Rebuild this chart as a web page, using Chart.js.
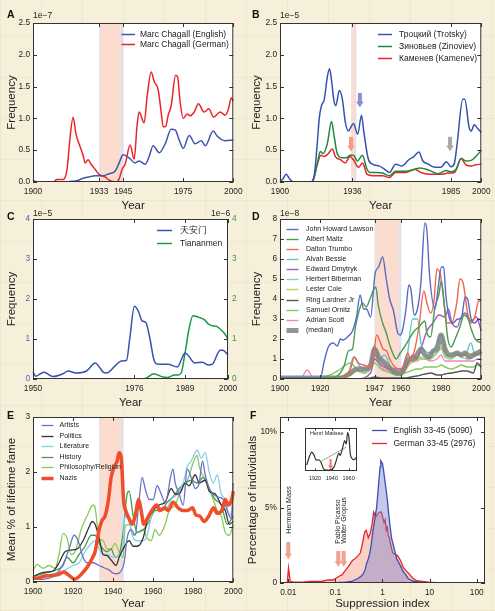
<!DOCTYPE html>
<html>
<head>
<meta charset="utf-8">
<script src="https://cdn.jsdelivr.net/npm/chart.js"></script>
<style>
  body { margin: 0; background: #f6efda; }
  #page {
    position: relative; width: 495px; height: 611px; overflow: hidden;
    background-color: #f6efda;
    background-image:
      repeating-linear-gradient(0deg, rgba(190,170,125,0.12) 0 1px, transparent 1px 41px),
      repeating-linear-gradient(90deg, rgba(190,170,125,0.12) 0 1px, transparent 1px 41px);
    font-family: "Liberation Sans", Arial, Helvetica, sans-serif;
  }
  .tag { position: absolute; font-size: 10.5px; line-height: 10.5px; font-weight: bold; color: #111; z-index: 5; }
  .exp { position: absolute; font-size: 8.5px; line-height: 8.5px; color: #222; z-index: 5; }
</style>
</head>
<body>
<div id="page">
  <div class="tag" style="left:7px;top:8.5px">A</div>
  <div class="tag" style="left:252px;top:8.5px">B</div>
  <div class="tag" style="left:7px;top:211px">C</div>
  <div class="tag" style="left:252px;top:211px">D</div>
  <div class="tag" style="left:7px;top:410px">E</div>
  <div class="tag" style="left:250px;top:410px">F</div>
  <div class="exp" style="left:33px;top:10.5px">1e−7</div>
  <div class="exp" style="left:280px;top:10.5px">1e−5</div>
  <div class="exp" style="left:33px;top:209px">1e−5</div>
  <div class="exp" style="left:211px;top:209px">1e−6</div>
  <div class="exp" style="left:280px;top:209px">1e−8</div>
</div>
<script>
// ---------- A: Marc Chagall (x1e-7) ----------
const chagallEnYears = [1900,1916,1919,1922,1925,1928,1931,1935,1938,1941,1943,1945,1948,1951,1953,1956,1958,1960,1963,1966,1969,1971,1973,1975,1978,1981,1984,1986,1990,1992,1996,2000];
const chagallEn = [0,0,0.01,0.02,0.06,0.08,0.1,0.1,0.13,0.17,0.3,0.43,0.38,0.3,0.33,0.28,0.4,0.57,0.46,0.6,0.83,0.82,0.66,0.53,0.73,0.6,0.65,0.57,0.8,0.72,0.65,0.66];
const chagallDeYears = [1900,1902,1910,1912,1915,1917,1918.5,1920,1921.5,1923,1925,1926,1927.5,1929,1931,1933,1936,1938,1941.5,1943,1944.5,1946,1948.5,1950.5,1952,1953,1955.5,1957,1959,1960.5,1962.5,1964,1965,1966.2,1967.5,1969,1971.2,1972.2,1973.5,1975,1977,1978.5,1980.5,1982.6,1985.4,1987.8,1990.2,1993.5,1996,1997.6,1999,2000];
const chagallDe = [0.03,0,0,0.04,0.04,0.2,0.7,1.02,0.75,0.6,0.42,0.3,0.35,0.28,0.2,0.12,0.08,0.03,0,0.05,0.2,0.28,0.58,0.36,0.9,1.1,0.93,1.35,1.73,1.58,1.45,1.1,0.87,0.87,1.05,1.2,1.68,1.65,1.25,1.0,1.07,1.04,1.1,1.23,1.1,1.15,1.02,1.1,1.05,1.15,1.32,1.27];
const aTicks = [1900,1933,1945,1975,2000];

// ---------- B: Trotsky / Zinoviev / Kamenev (x1e-5) ----------
const trotskyYears = [1900,1901.5,1903,1905,1907,1915,1917,1918.5,1919.5,1920.6,1922,1923.5,1924.6,1925.6,1926.7,1927.7,1929.5,1931,1932.4,1934,1935,1936.5,1938.6,1940.5,1941.6,1943.8,1946,1949.4,1952,1954.3,1957.5,1960.5,1964,1966.5,1969,1971,1973.7,1977,1980,1982.6,1985,1986.7,1988,1990.8,1991.8,1994,1995,1996.5,1998,2000];
const trotsky = [0,0.05,0.12,0.04,0,0,0.1,0.6,1.0,1.2,1.3,1.65,1.78,1.6,1.3,1.2,1.44,1.3,0.95,0.8,0.85,0.92,0.75,1.05,0.8,0.37,0.28,0.25,0.2,0.15,0.28,0.25,0.35,0.4,0.47,0.33,0.28,0.23,0.23,0.32,0.24,0.3,0.6,1.3,1.3,0.85,0.8,0.9,0.85,0.78];
const zinovievYears = [1900,1916,1918.6,1920,1921.4,1923.5,1925.6,1927,1928.4,1931,1933,1934.8,1936.5,1938.4,1941,1943,1944.6,1948,1951,1954.3,1957.5,1962.4,1967,1969.5,1973.7,1978.6,1982.6,1985,1987.5,1990,1992.4,1995,1997.3,2000];
const zinoviev = [0,0,0.3,0.48,0.45,0.6,0.95,0.7,0.45,0.38,0.38,0.42,0.42,0.33,0.42,0.22,0.15,0.15,0.14,0.1,0.17,0.17,0.2,0.22,0.19,0.13,0.18,0.16,0.2,0.37,0.33,0.34,0.4,0.5];
const kamenevYears = [1900,1916,1918.3,1920.3,1922,1923.8,1926,1927.5,1930,1932.4,1934.8,1936.5,1939,1941,1943.3,1946,1951,1954.3,1957.5,1962.4,1967,1970,1975,1980,1983.5,1986.7,1990,1992.4,1995,1997.3,2000];
const kamenev = [0,0,0.25,0.42,0.4,0.44,0.52,0.4,0.35,0.3,0.4,0.35,0.23,0.3,0.12,0.1,0.1,0.07,0.15,0.15,0.2,0.15,0.12,0.12,0.14,0.15,0.37,0.27,0.25,0.27,0.28];
const bTicks = [1900,1936,1985,2000];
const bArrowYears = [1939.7,1935.3,1984.5];
const bArrowTops = [1.40,0.71,0.71];
const bArrowTips = [1.17,0.48,0.48];

// ---------- C: Tiananmen ----------
const tamYears = [1950,1950.7,1952.8,1955.1,1957.7,1959,1961,1963.7,1966,1967,1968,1968.8,1971,1972.6,1974,1974.8,1976,1977,1978,1978.9,1980,1981,1982,1984.6,1987,1989,1989.7,1991.5,1993.4,1995,1996,1998,1998.7,2000];
const tamChinese = [0.18,0.07,0.17,0.06,0.13,0.2,0.15,0.2,0.4,0.3,0.17,0.15,0.32,0.45,0.47,1.0,1.82,1.7,1.45,1.42,1.0,0.48,0.37,0.37,0.3,0.65,0.6,0.4,0.42,0.35,0.37,0.72,0.72,0.6];
const tamEnYears = [1950,1978,1979,1981,1982,1983.3,1984.6,1986.3,1987.2,1988,1988.9,1990,1991,1992.3,1994,1995,1996,1997,1998.3,1999,2000];
const tamEnglish = [0,0,0.02,0.13,0.1,0.05,0.04,0.1,0.1,0.15,0.6,1.25,1.58,1.55,1.48,1.37,1.33,1.32,1.22,1.15,1.0];
const cTicks = [1950,1976,1989,2000];

// ---------- D: Hollywood Ten (x1e-8) ----------
const lawsonYears = [1900,1920,1922,1924,1926.5,1928.5,1930,1931.5,1933.5,1936,1938,1939.8,1941.5,1943,1945,1947.3,1949,1951,1952.8,1954.5,1956.4,1958.5,1959.8,1961,1962.6,1964,1965,1966.7,1968.3,1970,1972,1973,1974.3,1977,1978.5,1980.2,1981.3,1982.4,1984,1986,1988.3,1990,1992,1993.2,1995,1996.7,1998.7,2000];
const lawson = [0.05,0.05,0.9,1.6,1.8,1.65,2.0,1.95,2.1,2.4,3.1,4.2,3.5,3.5,3.1,5.3,5.6,6.1,5.0,4.0,3.4,2.3,2.2,2.5,3.5,4.7,4.5,3.2,3.5,4.8,7.8,7.4,5.2,3.5,4.5,5.6,5.6,4.2,3.1,2.8,3.0,3.0,4.1,4.0,3.0,2.8,3.0,2.9];
const maltzYears = [1900,1925,1930,1932,1934,1936,1937.5,1939,1941,1942.8,1944.7,1946.7,1947.6,1948.8,1951,1952.8,1954.5,1956.4,1957.7,1959.7,1961.8,1964.2,1966.7,1969,1972,1973,1974.8,1977,1978.9,1980.2,1981.8,1983.4,1985,1987,1989.4,1991.5,1993.5,1995,1997,2000];
const maltz = [0.05,0.05,0.3,0.7,1.4,1.5,2.6,3.3,3.8,3.6,4.0,4.5,4.6,3.7,2.8,2.3,1.7,1.2,1.0,1.3,1.6,2.0,2.4,2.6,2.9,2.3,2.1,3.6,4.2,4.9,3.5,2.0,1.6,2.0,2.6,3.2,3.0,2.5,2.0,1.8];
const trumboYears = [1900,1930,1933,1935,1937,1939,1941.5,1944.4,1946.3,1948,1949.6,1951.2,1953,1954.5,1957,1959.3,1961,1963.4,1965,1967,1969,1971.5,1973,1974.8,1976.4,1978,1979.7,1981.3,1983,1985.4,1987.8,1989.4,1991,1993.2,1995,1997,1998.7,2000];
const trumbo = [0,0,0.2,0.5,1.1,0.8,0.7,0.6,1.0,2.2,1.9,1.5,1.4,1.0,0.6,0.5,0.6,1.3,1.0,1.5,2.6,4.4,3.8,3.3,3.8,5.5,5.2,4.0,2.8,2.8,3.8,5.0,4.8,3.3,2.8,3.2,3.9,3.9];
const bessieYears = [1900,1930,1934,1936.6,1940,1944,1947,1949,1952,1955,1958,1960,1963,1965.9,1968.3,1970,1972,1975,1978,1980,1983,1986,1990,1992,1994.8,1997,2000];
const bessie = [0,0,0.3,1.1,0.6,0.5,1.7,1.0,1.2,0.6,0.4,0.4,1.0,3.0,3.0,1.8,1.4,1.3,1.8,2.2,1.2,1.3,1.2,1.2,1.8,1.2,1.3];
const dmytrykYears = [1900,1938,1945,1947,1950,1955,1960,1963,1966,1968,1970,1973,1976,1979,1982,1983.7,1985.4,1988,1990,1992,1995,1997.5,2000];
const dmytryk = [0,0,0.3,1.0,0.7,0.5,0.5,0.7,1.2,1.0,1.5,2.4,2.8,3.2,3.1,3.5,2.8,2.6,3.1,3.3,2.9,3.1,2.4];
const minorYears = [1900,1910,1913.5,1917,1925,1930,1935,1938,1942,1945,1947,1950,1955,1958,1960,1962,1965,1968,1970,1972,1975,1978,1980,1982,1985,1988,1990,1993,1996,1998,2000];
const biberman = [0,0,0,0,0,0.1,0.3,0.4,0.3,0.6,1.2,0.8,0.5,0.3,0.3,0.5,0.9,1.0,1.1,1.0,1.0,1.3,1.5,1.1,1.0,1.2,1.1,1.0,1.1,1.2,1.2];
const cole = [0,0,0,0,0,0.1,0.2,0.4,0.3,0.5,1.0,0.7,0.5,0.3,0.3,0.5,0.8,0.9,1.0,1.0,1.1,1.3,1.6,1.2,1.1,1.3,1.2,1.3,1.2,1.3,1.3];
const lardner = [0,0,0,0,0,0,0,0,0.02,0.05,0.1,0.05,0.05,0.05,0.05,0.05,0.1,0.15,0.2,0.25,0.3,0.2,0.2,0.25,0.3,0.35,0.4,0.4,0.3,0.8,0.6];
const ornitz = [0,0,0,0.05,0.2,0.5,0.8,0.5,0.4,0.5,0.8,0.5,0.3,0.2,0.2,0.3,0.4,0.5,0.5,0.6,0.6,0.6,0.7,0.6,0.5,0.6,0.7,0.6,0.6,0.7,0.6];
const scott = [0,0,0.45,0,0,0.05,0.2,0.4,0.3,0.6,1.2,0.6,0.4,0.2,0.2,0.4,0.8,0.9,1.0,1.0,0.9,1.0,1.2,0.9,0.9,0.9,0.9,0.9,0.9,1.0,1.0];
const medianYears = [1900,1930,1935,1938,1942,1945,1947,1949,1952,1955,1958,1960,1962,1964,1966,1968,1970,1972,1974,1976,1978,1980,1982,1984,1986,1988,1990,1992,1994,1996,1998,2000];
const median = [0.05,0.05,0.3,0.5,0.5,0.7,1.5,1.1,0.8,0.5,0.3,0.3,0.6,1.0,1.0,1.2,1.5,1.2,1.1,1.4,1.5,2.2,1.5,1.2,1.2,1.3,1.2,1.3,1.1,1.2,1.3,1.4];
const dTicks = [1900,1920,1947,1960,1980,2000];

// ---------- E: mean % of lifetime fame ----------
const artistsYears = [1900,1905,1910,1913,1916,1918,1920.5,1922.5,1925,1927,1930,1933,1936,1938,1940,1942,1944,1945.5,1947,1949,1951,1953,1954.5,1956,1958,1960,1962,1964,1966,1969.9,1971,1973,1975,1977,1979,1981,1983,1984.6,1986,1988,1990,1992,1995,1997,1999,2000];
const artists = [0.05,0.05,0.1,0.2,0.4,0.6,0.85,0.75,0.45,0.35,0.35,0.3,0.25,0.22,0.16,0.15,0.2,0.35,0.8,0.95,0.85,1.5,1.9,1.7,1.5,1.5,1.75,1.6,1.45,2.05,1.8,1.6,1.4,2.05,1.9,1.7,1.8,2.2,1.95,1.7,1.6,1.55,1.5,1.3,1.15,1.8];
const politicsYears = [1900,1903,1906,1910,1913,1916,1919,1922,1925,1928,1929.5,1931,1933,1935,1937,1939,1941.5,1943,1945,1948,1950,1952,1955,1957,1960,1963,1966,1969,1971,1973,1976,1978,1981,1983,1986,1988,1991,1994,1996,1998,2000];
const politics = [0.1,0.15,0.18,0.2,0.35,0.55,0.58,0.6,0.75,1.0,1.1,1.05,0.8,0.5,0.48,0.4,0.3,0.45,0.6,0.75,0.65,0.65,0.8,1.1,1.3,1.4,1.45,1.7,1.6,1.6,1.8,1.75,1.95,1.8,1.85,1.65,1.6,1.4,1.3,1.05,1.1];
const literatureYears = [1900,1905,1910,1915,1920,1923,1926,1929,1931,1933,1935,1937,1940,1943,1945,1946,1948,1950,1952,1955,1957,1960,1963,1966,1969,1972,1975,1977,1979,1982,1984,1986,1988,1990,1992,1994,1996,1998,2000];
const literature = [0.05,0.1,0.15,0.2,0.3,0.35,0.55,0.7,0.75,0.6,0.5,0.5,0.45,0.5,0.7,1.2,1.1,0.8,0.75,0.75,0.85,1.3,1.35,1.3,1.5,1.6,1.8,2.1,2.2,2.4,2.25,2.35,2.0,1.8,1.95,1.6,1.5,1.2,1.35];
const historyYears = [1900,1905,1910,1915,1917,1920,1923,1926,1929,1931,1933,1935,1937,1939,1941,1943,1945,1947,1948,1950,1952,1955,1958,1961,1964,1967,1970,1973,1976,1979,1982,1985,1988,1991,1994,1997,2000];
const history = [0.1,0.15,0.2,0.3,0.45,0.35,0.5,0.65,0.85,0.85,0.7,0.6,0.55,0.6,0.45,0.5,0.9,1.6,1.65,1.2,0.9,0.95,1.1,1.3,1.3,1.45,1.55,1.7,1.8,1.85,1.8,1.9,1.7,1.5,1.4,1.05,1.2];
const philosophyYears = [1900,1902,1905,1908,1911,1913,1915,1917,1919,1921,1924,1927,1930,1931,1933,1935,1937,1939,1941,1943,1945,1946,1948,1950,1952,1955,1957,1959,1961,1963,1966,1968,1971,1974,1977,1982,1983,1986,1988,1990,1992,1994,1996,1998,2000];
const philosophy = [0.2,0.32,0.25,0.3,0.25,0.5,0.88,0.8,0.5,0.55,0.95,1.2,1.4,1.35,0.8,0.75,0.6,0.6,0.7,0.55,0.45,1.0,1.05,0.85,0.9,0.95,0.8,0.75,0.95,0.85,1.05,1.3,1.4,1.7,1.85,2.3,2.1,1.85,1.7,1.5,1.3,1.2,0.9,0.85,1.05];
const nazisYears = [1900,1902,1905,1910,1913,1915.4,1918,1920.8,1923,1926,1927.6,1929.4,1931,1933,1934.5,1936,1937.7,1939,1940.7,1942,1943,1944.2,1945.2,1946.3,1948,1949.6,1951,1952.8,1954,1955.3,1957,1959.3,1961.8,1963.4,1965.9,1967.5,1970,1972.4,1974.8,1977.2,1979.7,1981.3,1983.3,1985.4,1987.8,1990.2,1991.9,1994.3,1996,1997.6,1999.2,2000];
const nazis = [0.1,0.07,0.1,0.12,0.14,0.18,0.12,0.05,0.1,0.22,0.3,0.42,0.55,0.95,1.12,1.2,1.5,1.9,2.1,2.2,2.35,2.2,1.5,1.3,1.15,1.05,1.2,1.5,1.3,1.05,1.15,1.3,1.4,1.3,1.35,1.3,1.45,1.35,1.3,1.3,1.35,1.22,1.2,1.1,1.2,1.35,1.25,1.3,1.5,1.4,1.5,1.65];
const eTicks = [1900,1920,1940,1960,1980,2000];

// ---------- F: suppression index (% of individuals) ----------
const supEnX = [0.0067,0.1,0.16,0.22,0.3,0.35,0.39,0.43,0.46,0.5,0.54,0.58,0.63,0.69,0.75,0.8,0.85,0.89,0.92,0.96,1.0,1.06,1.12,1.2,1.27,1.35,1.42,1.55,1.74,2.0,2.35,2.7,3.1,3.5,4.2,4.9,6,7.9,10,150];
const supEn = [0,0.02,0.05,0.1,0.3,0.45,0.6,0.9,1.3,1.6,2.0,2.6,3.5,4.3,5.0,6.0,7.0,7.7,8.1,8.0,7.9,7.4,6.8,6.1,5.5,4.6,4.0,3.0,2.4,1.6,1.2,0.8,0.55,0.3,0.15,0.1,0.05,0.02,0,0];
const supDeX = [0.0067,0.0095,0.0101,0.011,0.013,0.02,0.03,0.05,0.07,0.09,0.1,0.12,0.14,0.16,0.18,0.2,0.23,0.26,0.3,0.34,0.38,0.42,0.45,0.5,0.55,0.6,0.65,0.72,0.8,0.87,0.95,1.02,1.08,1.14,1.2,1.27,1.33,1.4,1.5,1.65,1.85,2.1,2.4,2.8,3.2,3.7,4.3,5.3,7,9.5,15,40,150];
const supDe = [0,0,1.0,0.1,0.05,0.05,0.1,0.1,0.2,0.2,0.3,0.45,0.55,0.8,1.0,1.2,1.5,1.6,1.8,2.0,2.7,3.4,3.5,3.0,3.3,3.9,4.7,4.4,4.6,4.7,4.7,4.3,4.0,4.2,3.5,3.7,3.1,3.0,2.5,2.0,1.9,1.8,1.5,1.0,0.8,0.6,0.35,0.15,0.1,0.05,0.03,0.02,0];
const fTicks = [0.01,0.1,1,10,100];
const fArrowX = [0.01,0.115,0.15];
const fArrowTops = [2.72,2.12,2.12];
const fArrowTips = [1.55,1.06,1.06];
const fNames = ['Hermann Mass','Pablo Picasso','Walter Gropius'];
const fNameX = [0.01035,0.112,0.152];
const fNameY = [3.27,2.6,2.6];

// inset: Henri Matisse
const matisseYears = [1910,1913.2,1916,1918.8,1921.2,1924,1926.8,1930,1933.2,1937.2,1940,1942.8,1946,1948.4,1950,1952,1954,1955.2,1957.2,1958.8,1960.4,1962,1964,1966,1969.2];
const matisse = [1.4,3.4,4.5,3.8,2.6,2.7,2.2,0.6,0.2,0.2,0.4,1.0,3.0,4.3,3.75,4.9,6.5,7.3,6.5,9.2,8.0,4.1,3.0,2.7,3.2];
const matisseTrendYears = [1928,1957];
const matisseTrend = [2.4,5.7];
const insetTicks = [1920,1940,1960];

// ---------- helpers ----------
const FONT = '"Liberation Sans", Arial, Helvetica, sans-serif';
const INK = '#222';
Chart.defaults.font.family = FONT;
Chart.defaults.color = INK;

const page = document.getElementById('page');

function xy(xs, ys) {
  return xs.map((x, i) => ({ x: x, y: ys[i] }));
}

function series(label, xs, ys, color, width, extra) {
  return Object.assign({
    label: label,
    data: xy(xs, ys),
    borderColor: color,
    backgroundColor: color,
    borderWidth: width,
    pointRadius: 0,
    cubicInterpolationMode: 'monotone',
    fill: false,
    order: 0
  }, extra || {});
}

function steps(min, max, step) {
  const out = [];
  for (let v = min; v <= max + 1e-9; v += step) out.push(+v.toFixed(6));
  return out;
}

// year axes take their range from the data (every series spans the full period)
function xAxis(type, min, max, ticks, title, pb, size) {
  const axis = {
    type: type,
    grid: { display: false, drawTicks: false },
    border: { display: false },
    afterBuildTicks: s => { s.ticks = ticks.map(v => ({ value: v })); },
    ticks: { padding: 4.5, autoSkip: false, maxRotation: 0, font: { size: size || 8.3 }, color: INK, callback: v => String(v) },
    title: { display: !!title, text: title, font: { size: 11.5 }, color: INK, padding: { top: 0, bottom: pb } }
  };
  if (min === null) {
    axis.bounds = 'data';
    axis.grace = 0;
  } else {
    axis.min = min;
    axis.max = max;
  }
  return axis;
}

function yAxis(min, max, ticks, fmt, title, pt, color, position) {
  return {
    type: 'linear', min: min, max: max, position: position || 'left',
    grid: { display: false, drawTicks: false },
    border: { display: false },
    afterBuildTicks: s => { s.ticks = ticks.map(v => ({ value: v })); },
    ticks: { padding: position === 'right' ? 4 : 3, font: { size: 8.3 }, color: color || INK, callback: fmt },
    title: { display: !!title, text: title, font: { size: 11.5 }, color: INK, padding: { top: pt, bottom: 0 } }
  };
}

// white plot area, dark frame and short inward ticks on every side
function framePlugin(len) {
  return {
    id: 'frame',
    beforeDraw(chart) {
      const { ctx, chartArea: a } = chart;
      ctx.save();
      ctx.fillStyle = '#fff';
      ctx.fillRect(a.left, a.top, a.right - a.left, a.bottom - a.top);
      ctx.restore();
    },
    afterDraw(chart) {
      const { ctx, chartArea: a } = chart;
      ctx.save();
      ctx.strokeStyle = '#333';
      ctx.lineWidth = 1;
      ctx.strokeRect(a.left + 0.5, a.top + 0.5, a.right - a.left - 1, a.bottom - a.top - 1);
      const hasRight = !!chart.scales.y2;
      Object.values(chart.scales).forEach(s => {
        if (s.options.display === false) return;
        s.ticks.forEach(t => {
          const p = Math.round(s.getPixelForValue(t.value)) + 0.5;
          ctx.beginPath();
          if (s.isHorizontal()) {
            ctx.moveTo(p, a.bottom); ctx.lineTo(p, a.bottom - len);
            ctx.moveTo(p, a.top); ctx.lineTo(p, a.top + len);
          } else if (s.position === 'left') {
            ctx.moveTo(a.left, p); ctx.lineTo(a.left + len, p);
            if (!hasRight) { ctx.moveTo(a.right, p); ctx.lineTo(a.right - len, p); }
          } else {
            ctx.moveTo(a.right, p); ctx.lineTo(a.right - len, p);
          }
          ctx.stroke();
        });
      });
      ctx.restore();
    }
  };
}

// pink period band behind the lines, with pale edges
function shadePlugin(from, to, leftEdge, rightEdge) {
  return {
    id: 'shade',
    beforeDatasetsDraw(chart) {
      const { ctx, chartArea: a, scales: { x } } = chart;
      const x1 = x.getPixelForValue(from), x2 = x.getPixelForValue(to);
      ctx.save();
      ctx.fillStyle = '#fbdccf';
      ctx.fillRect(x1, a.top, x2 - x1, a.bottom - a.top);
      if (leftEdge) {
        ctx.fillStyle = '#e3e5ec';
        ctx.fillRect(x1, a.top, leftEdge, a.bottom - a.top);
      }
      if (rightEdge) {
        ctx.fillStyle = '#d9e2ee';
        ctx.fillRect(x2 - rightEdge + 0.5, a.top, rightEdge, a.bottom - a.top);
      }
      ctx.restore();
    }
  };
}

function arrowPlugin(xs, tops, tips, colors, size, yId) {
  return {
    id: 'arrows',
    afterDatasetsDraw(chart) {
      const { ctx } = chart;
      const sx = chart.scales.x, sy = chart.scales[yId || 'y'];
      ctx.save();
      xs.forEach((v, i) => {
        const x = sx.getPixelForValue(v);
        const y1 = sy.getPixelForValue(tops[i]), y2 = sy.getPixelForValue(tips[i]);
        ctx.fillStyle = colors[i];
        ctx.fillRect(x - size.sw / 2, y1, size.sw, y2 - y1 - size.hh + 0.5);
        ctx.beginPath();
        ctx.moveTo(x - size.hw / 2, y2 - size.hh);
        ctx.lineTo(x + size.hw / 2, y2 - size.hh);
        ctx.lineTo(x, y2);
        ctx.closePath();
        ctx.fill();
      });
      ctx.restore();
    }
  };
}

function textPlugin(texts, xs, ys, font, rot) {
  return {
    id: 'texts',
    afterDatasetsDraw(chart) {
      const { ctx } = chart;
      ctx.save();
      ctx.font = font;
      ctx.fillStyle = INK;
      ctx.textBaseline = 'middle';
      ctx.textAlign = 'left';
      texts.forEach((t, i) => {
        const x = chart.scales.x.getPixelForValue(xs[i]);
        const y = chart.scales.y.getPixelForValue(ys[i]);
        ctx.save();
        ctx.translate(x, y);
        ctx.rotate(rot);
        ctx.fillText(t, 0, 0);
        ctx.restore();
      });
      ctx.restore();
    }
  };
}

// legend drawn inside the plot area, offsets relative to chartArea
function legendPlugin(o) {
  return {
    id: 'boxLegend',
    afterDraw(chart) {
      const { ctx, chartArea: a } = chart;
      ctx.save();
      ctx.font = o.size + 'px ' + FONT;
      ctx.textBaseline = 'middle';
      let i = 0;
      chart.data.datasets.forEach(ds => {
        if (ds.noLegend) return;
        const y = Math.round(a.top + o.dy + i * o.row) + 0.5;
        ctx.strokeStyle = ds.borderColor;
        ctx.lineWidth = ds.borderWidth;
        ctx.beginPath();
        ctx.moveTo(a.left + o.x1, y);
        ctx.lineTo(a.left + o.x2, y);
        ctx.stroke();
        ctx.fillStyle = INK;
        ctx.fillText(ds.label, a.left + o.tx, y);
        i++;
      });
      ctx.restore();
    }
  };
}

function panel(box, area, scales, datasets, plugins) {
  const c = document.createElement('canvas');
  c.width = box.w; c.height = box.h;
  c.style.cssText = 'position:absolute;left:' + box.left + 'px;top:' + box.top + 'px;width:' + box.w + 'px;height:' + box.h + 'px';
  page.appendChild(c);
  scales.x.afterFit = s => { s.height = box.h - area.b; };
  if (scales.y.display !== false) scales.y.afterFit = s => { s.width = area.l; };
  if (scales.y2) scales.y2.afterFit = s => { s.width = box.w - area.r; };
  return new Chart(c, {
    type: 'line',
    data: { datasets: datasets },
    options: {
      responsive: false,
      animation: false,
      devicePixelRatio: 1,
      layout: { padding: {
        left: scales.y.display === false ? area.l : 0,
        top: area.t,
        right: scales.y2 ? 0 : box.w - area.r,
        bottom: 0
      } },
      plugins: { legend: { display: false }, tooltip: { enabled: false } },
      scales: scales
    },
    plugins: [framePlugin(box.tick || 4)].concat(plugins || [])
  });
}

const fmt1 = v => v.toFixed(1);
const fmt0 = v => String(v);

// ---------- A ----------
panel({ left: 0, top: 0, w: 247, h: 215 }, { l: 33, t: 23, r: 238, b: 182 },
  {
    x: xAxis('linear', null, null, aTicks, 'Year', 2.1),
    y: yAxis(0, 2.5, steps(0, 2.5, 0.5), fmt1, 'Frequency', 4.8)
  },
  [
    series('Marc Chagall (English)', chagallEnYears, chagallEn, '#3c55ad', 1.5),
    series('Marc Chagall (German)', chagallDeYears, chagallDe, '#ee2328', 1.5)
  ],
  [shadePlugin(1933, 1945, 1.5, 2.5), legendPlugin({ x1: 88.5, x2: 102, tx: 107, dy: 10.5, row: 10.8, size: 8.5 })]
);

// ---------- B ----------
panel({ left: 247, top: 0, w: 248, h: 215 }, { l: 33, t: 23, r: 239, b: 182 },
  {
    x: xAxis('linear', null, null, bTicks, 'Year', 2.4),
    y: yAxis(0, 2.5, steps(0, 2.5, 0.5), fmt1, 'Frequency', 2.8)
  },
  [
    series('Троцкий (Trotsky)', trotskyYears, trotsky, '#3652b0', 1.5),
    series('Зиновьев (Zinoviev)', zinovievYears, zinoviev, '#1d8a3b', 1.5),
    series('Каменев (Kamenev)', kamenevYears, kamenev, '#e8232a', 1.5)
  ],
  [
    shadePlugin(1935.3, 1937.7, 0, 1.5),
    arrowPlugin(bArrowYears, bArrowTops, bArrowTips, ['#8b8fd2', '#f59a83', '#a9a9a9'], { sw: 4, hw: 7.5, hh: 6 }),
    legendPlugin({ x1: 98, x2: 112, tx: 119, dy: 10.5, row: 12, size: 8.5 })
  ]
);

// ---------- C ----------
panel({ left: 0, top: 200, w: 247, h: 215 }, { l: 33, t: 19, r: 228, b: 179 },
  {
    x: xAxis('linear', null, null, cTicks, 'Year', 5.1),
    y: yAxis(0, 4, steps(0, 4, 1), fmt0, 'Frequency', 4.8, '#4a63c0'),
    y2: yAxis(0, 4, steps(0, 4, 1), fmt0, '', 0, '#2c9d4b', 'right')
  },
  [
    series('天安门', tamYears, tamChinese, '#3652b0', 1.5),
    series('Tiananmen', tamEnYears, tamEnglish, '#1d9a45', 1.5, { yAxisID: 'y2' })
  ],
  [legendPlugin({ x1: 124, x2: 139, tx: 147, dy: 11, row: 12.7, size: 8.5 })]
);

// ---------- D ----------
const minorOpts = { order: 2 };
panel({ left: 247, top: 200, w: 248, h: 215 }, { l: 33, t: 19, r: 238, b: 179 },
  {
    x: xAxis('linear', null, null, dTicks, 'Year', 5.1),
    y: yAxis(0, 8, steps(0, 8, 1), fmt0, 'Frequency', 2.8)
  },
  [
    series('John Howard Lawson', lawsonYears, lawson, '#5a6bc2', 1.4),
    series('Albert Maltz', maltzYears, maltz, '#4b9a52', 1.4),
    series('Dalton Trumbo', trumboYears, trumbo, '#f4664a', 1.4),
    series('Alvah Bessie', bessieYears, bessie, '#5ecaca', 1.4, minorOpts),
    series('Edward Dmytryk', dmytrykYears, dmytryk, '#a45cb6', 1.4, minorOpts),
    series('Herbert Biberman', minorYears, biberman, '#8fd39c', 1.4, minorOpts),
    series('Lester Cole', minorYears, cole, '#cbc857', 1.4, minorOpts),
    series('Ring Lardner Jr', minorYears, lardner, '#555555', 1.4, minorOpts),
    series('Samuel Ornitz', minorYears, ornitz, '#80c95a', 1.4, minorOpts),
    series('Adrian Scott', minorYears, scott, '#f28ab6', 1.4, minorOpts),
    series('(median)', medianYears, median, 'rgba(128,128,128,0.85)', 5, { order: 1 })
  ],
  [shadePlugin(1947, 1960, 1.5, 2.5), legendPlugin({ x1: 6.5, x2: 18.5, tx: 26, dy: 9.5, row: 10.15, size: 7 })]
);

// ---------- E ----------
const eOpts = { order: 1 };
panel({ left: 0, top: 400, w: 247, h: 211 }, { l: 33, t: 17, r: 238, b: 182 },
  {
    x: xAxis('linear', null, null, eTicks, 'Year', 0),
    y: yAxis(0, 3, steps(0, 3, 1), fmt0, 'Mean % of lifetime fame', 5.4)
  },
  [
    series('Artists', artistsYears, artists, '#6a72c6', 1.3, eOpts),
    series('Politics', politicsYears, politics, '#333333', 1.3, eOpts),
    series('Literature', literatureYears, literature, '#86d0ea', 1.3, eOpts),
    series('History', historyYears, history, '#4b9a52', 1.3, eOpts),
    series('Philosophy/Religion', philosophyYears, philosophy, '#8ccb5a', 1.3, eOpts),
    series('Nazis', nazisYears, nazis, '#f04e2b', 3.5, { order: 0 })
  ],
  [shadePlugin(1933, 1945, 1.5, 2.5), legendPlugin({ x1: 8.5, x2: 20.5, tx: 26.5, dy: 8, row: 10.5, size: 7 })]
);

// ---------- F ----------
const pct = v => (v === 0 ? '0' : v + '%');
const straight = { cubicInterpolationMode: 'default', tension: 0 };
panel({ left: 240, top: 400, w: 255, h: 211 }, { l: 40, t: 17, r: 245, b: 183 },
  {
    x: xAxis('logarithmic', 0.00667, 150, fTicks, 'Suppression index', 0),
    y: yAxis(0, 11, [0, 5, 10], pct, 'Percentage of individuals', 6)
  },
  [
    series('English 33-45 (5090)', supEnX, supEn, '#3a4fb0', 1.3,
      Object.assign({ fill: 'origin', backgroundColor: 'rgba(120,128,205,0.42)' }, straight)),
    series('German 33-45 (2976)', supDeX, supDe, '#e8232a', 1.3,
      Object.assign({ fill: 'origin', backgroundColor: 'rgba(242,140,118,0.42)' }, straight))
  ],
  [
    arrowPlugin(fArrowX, fArrowTops, fArrowTips, ['#f4a18b', '#f4a18b', '#f4a18b'], { sw: 4, hw: 7, hh: 6 }),
    textPlugin(fNames, fNameX, fNameY, '7px ' + FONT, -Math.PI / 2),
    legendPlugin({ x1: 92, x2: 107, tx: 113.5, dy: 13, row: 12.5, size: 8.5 })
  ]
);

// ---------- F inset: Henri Matisse ----------
panel({ left: 300, top: 425, w: 62, h: 62, tick: 2.5 }, { l: 5, t: 3, r: 57, b: 46 },
  {
    x: xAxis('linear', 1908, 1970, insetTicks, '', 0, 5.5),
    y: { type: 'linear', min: 0, max: 10.3, display: false }
  },
  [
    series('Henri Matisse', matisseYears, matisse, '#333333', 1.2),
    series('trend', matisseTrendYears, matisseTrend, '#a0a0a0', 1, Object.assign({ noLegend: true }, straight))
  ],
  [
    arrowPlugin([1938.5], [2.9], [0.5], ['#f07a60'], { sw: 2, hw: 5, hh: 3.5 }),
    textPlugin(['Henri Matisse'], [1914], [9.0], '5.5px ' + FONT, 0)
  ]
);
</script>
</body>
</html>
